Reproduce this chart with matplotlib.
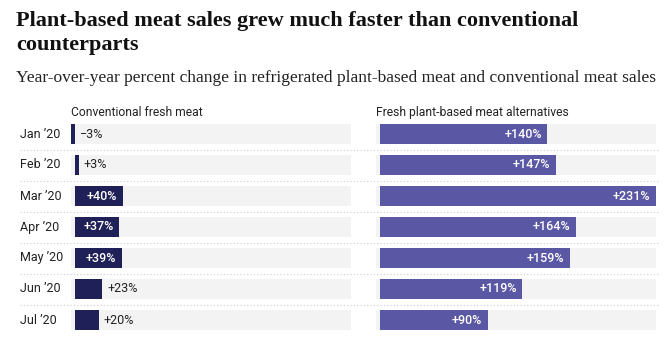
import matplotlib.pyplot as plt
import matplotlib.transforms as mtransforms

months = ["Jan \u201920", "Feb \u201920", "Mar \u201920", "Apr \u201920",
          "May \u201920", "Jun \u201920", "Jul \u201920"]
conventional = [-3, 3, 40, 37, 39, 23, 20]
plant_based = [140, 147, 231, 164, 159, 119, 90]

NAVY = "#1f2057"
PURPLE = "#5a57a5"
TRACK = "#f3f3f3"
INK = "#222222"
SANS = "Roboto"
SERIF = "Liberation Serif"

W, H = 672, 348
fig = plt.figure(figsize=(W / 100, H / 100), dpi=100)


def fx(px):
    return px / W


def fy(py):
    return 1 - py / H


xmin, xmax = -3.35, 231
rows = range(len(months))
top_px, row_px = 118.5, 31
ax_bottom = fy(top_px + row_px * len(months))
ax_height = row_px * len(months) / H


def panel(left_px, values, color, header, inside_min):
    ax = fig.add_axes([fx(left_px), ax_bottom, fx(280), ax_height])
    ax.set_xlim(xmin, xmax)
    ax.set_ylim(len(values) - 0.5, -0.5)
    ax.axis("off")
    ax.barh(rows, [xmax - xmin] * len(values), left=xmin, height=0.645,
            color=TRACK, zorder=1)
    ax.barh(rows, values, height=0.645, color=color, zorder=2)
    for i, v in enumerate(values):
        txt = f"+{v}%" if v >= 0 else f"\u2212{abs(v)}%"
        if v >= inside_min:
            ax.annotate(txt, (v, i), xytext=(-4, 0), textcoords="offset points",
                        ha="right", va="center", color="white", fontsize=9,
                        family=SANS, fontweight="medium", zorder=3)
        else:
            ax.annotate(txt, (max(v, 0), i), xytext=(3.5, 0),
                        textcoords="offset points", ha="left", va="center",
                        color=INK, fontsize=9, family=SANS, zorder=3)
    fig.text(fx(left_px), fy(116), header, ha="left", va="baseline",
             fontsize=8.75, family=SANS, color=INK)
    return ax


ax_left = panel(71, conventional, NAVY, "Conventional fresh meat", 30)
ax_right = panel(376, plant_based, PURPLE, "Fresh plant-based meat alternatives", 30)

# month labels and dotted separators across both panels
trans = mtransforms.blended_transform_factory(fig.transFigure, ax_left.transData)
for i, m in enumerate(months):
    fig.text(fx(20), 0, m, transform=trans, ha="left", va="center",
             fontsize=9, family=SANS, color=INK).set_y(i)
    if i < len(months) - 1:
        fig.add_artist(plt.Line2D([fx(20), fx(660)], [i + 0.5, i + 0.5],
                                  transform=trans, color="#cccccc", lw=0.8,
                                  linestyle=(0, (1, 2))))

fig.text(fx(16), fy(26), "Plant-based meat sales grew much faster than conventional",
         ha="left", va="baseline", fontsize=16, fontweight="bold", family=SERIF,
         color="#111111")
fig.text(fx(16), fy(50), "counterparts", ha="left", va="baseline", fontsize=16,
         fontweight="bold", family=SERIF, color="#111111")
fig.text(fx(16), fy(82),
         "Year-over-year percent change in refrigerated plant-based meat and conventional meat sales",
         ha="left", va="baseline", fontsize=12.5, family=SERIF, color="#222222")

fig.savefig("out.png", dpi=100)
